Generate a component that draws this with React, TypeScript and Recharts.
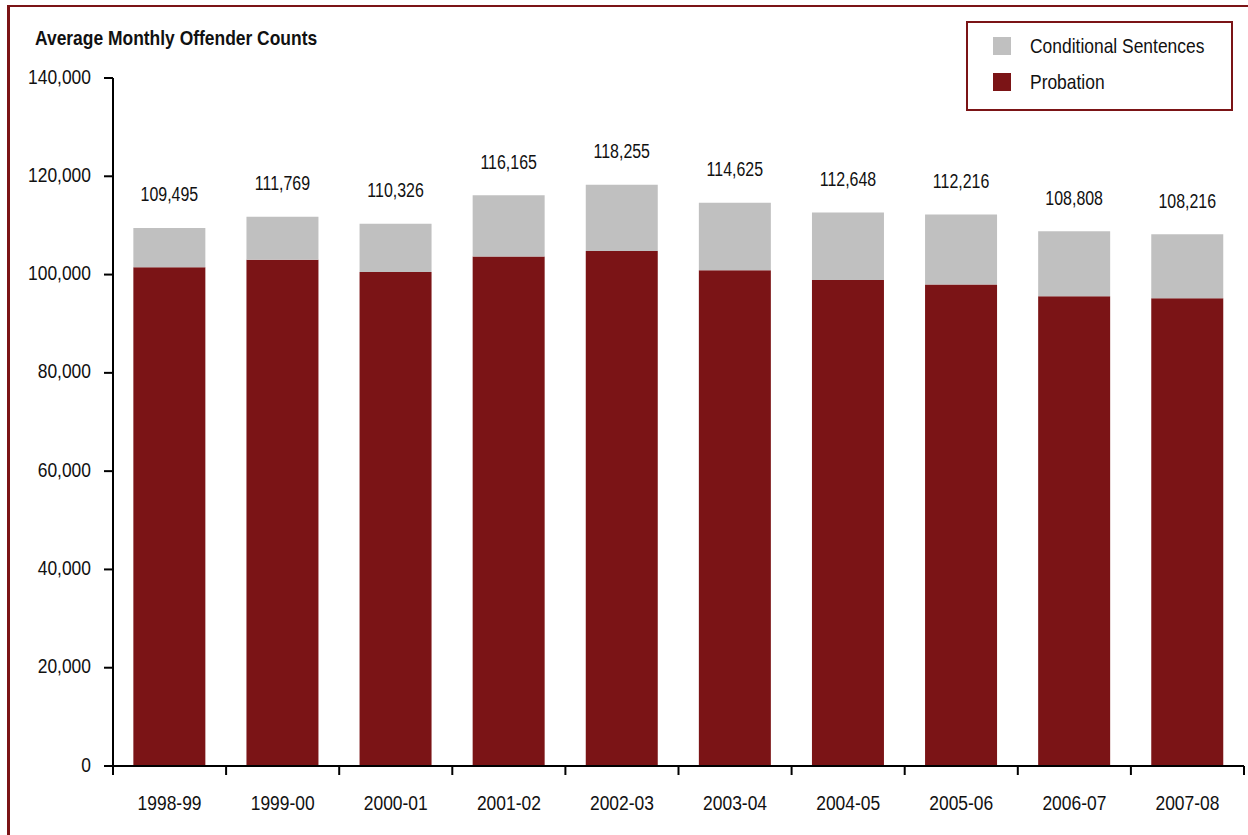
import React from 'react';
import { BarChart, Bar, XAxis, YAxis, LabelList } from 'recharts';

const categories = ['1998-99', '1999-00', '2000-01', '2001-02', '2002-03', '2003-04', '2004-05', '2005-06', '2006-07', '2007-08'];
const totals = [109495, 111769, 110326, 116165, 118255, 114625, 112648, 112216, 108808, 108216];
const probation = [101500, 103000, 100500, 103700, 104800, 100900, 98900, 98000, 95600, 95200];
const conditional = [7995, 8769, 9826, 12465, 13455, 13725, 13748, 14216, 13208, 13016];
const yTicks = [0, 20000, 40000, 60000, 80000, 100000, 120000, 140000];

const data = categories.map((c, i) => ({
  year: c,
  probation: probation[i],
  conditional: conditional[i],
  total: totals[i],
}));

const RED = '#7b1416';
const GREY = '#c0c0c0';
const FONT = "'Liberation Sans', Arial, sans-serif";
const SX = 0.83;

const SERIES = [
  { key: 'conditional', name: 'Conditional Sentences', color: GREY },
  { key: 'probation', name: 'Probation', color: RED },
];

const CHART_W = 1248;
const CHART_H = 835;
const MARGIN = { top: 78, right: 4, bottom: 19, left: 33 };
const Y_AXIS_W = 80;
const X_AXIS_H = 50;
const BAND = (CHART_W - MARGIN.left - MARGIN.right - Y_AXIS_W) / categories.length;

const fmt = (v: number) => v.toLocaleString('en-US');

const NarrowText = ({ x, y, anchor, size, children, weight, sx }: any) => (
  <g transform={`translate(${x},${y}) scale(${sx || SX},1)`}>
    <text x={0} y={0} textAnchor={anchor} dominantBaseline="middle" fontFamily={FONT} fontSize={size} fontWeight={weight || 'normal'} fill="#111">
      {children}
    </text>
  </g>
);

const XTick = (props: any) => {
  const { x, y, payload, index } = props;
  const last = index === categories.length - 1;
  return (
    <g>
      <line x1={x - BAND / 2} x2={x - BAND / 2} y1={y} y2={y + 9} stroke="#000" strokeWidth={2} />
      {last && <line x1={x + BAND / 2} x2={x + BAND / 2} y1={y} y2={y + 9} stroke="#000" strokeWidth={2} />}
      <NarrowText x={x} y={y + 38} anchor="middle" size={21}>{payload.value}</NarrowText>
    </g>
  );
};

const YTick = (props: any) => {
  const { x, y, payload } = props;
  return <NarrowText x={x} y={y} anchor="end" size={21}>{fmt(payload.value)}</NarrowText>;
};

const TotalLabel = (props: any) => {
  const { x, y, width, value } = props;
  return <NarrowText x={x + width / 2} y={y - 32} anchor="middle" size={21} sx={0.76}>{fmt(value)}</NarrowText>;
};

export default function App() {
  return (
    <div style={{ position: 'absolute', left: 0, top: 0, width: CHART_W, height: CHART_H, overflow: 'hidden', background: '#fff' }}>
      <div style={{ position: 'absolute', left: 7, top: 5, width: 1400, height: 1000, borderLeft: `3px solid ${RED}`, borderTop: `2px solid ${RED}` }} />
      <div style={{ position: 'absolute', left: 35, top: 26, fontFamily: FONT, fontWeight: 'bold', fontSize: 21, color: '#111', whiteSpace: 'nowrap', transform: `scaleX(${SX})`, transformOrigin: 'left center' }}>
        Average Monthly Offender Counts
      </div>
      <div style={{ position: 'absolute', left: 0, top: 0 }}>
        <BarChart width={CHART_W} height={CHART_H} data={data} margin={MARGIN} barCategoryGap="18%">
          <XAxis
            dataKey="year"
            axisLine={{ stroke: '#000', strokeWidth: 2 }}
            tickLine={false}
            tickSize={0}
            tickMargin={0}
            height={X_AXIS_H}
            tick={<XTick />}
            interval={0}
          />
          <YAxis
            domain={[0, 140000]}
            ticks={yTicks}
            interval={0}
            width={Y_AXIS_W}
            axisLine={{ stroke: '#000', strokeWidth: 2 }}
            tickLine={{ stroke: '#000', strokeWidth: 2 }}
            tickSize={9}
            tickMargin={13}
            tick={<YTick />}
          />
          <Bar dataKey="probation" name="Probation" stackId="a" fill={RED} isAnimationActive={false} />
          <Bar dataKey="conditional" name="Conditional Sentences" stackId="a" fill={GREY} isAnimationActive={false}>
            <LabelList dataKey="total" content={<TotalLabel />} />
          </Bar>
        </BarChart>
      </div>
      <div style={{ position: 'absolute', left: 966, top: 21, width: 263, height: 81, border: `2px solid ${RED}`, paddingTop: 5, background: '#fff', boxSizing: 'content-box' }}>
        {SERIES.map((s) => (
          <div key={s.key} style={{ display: 'flex', alignItems: 'center', height: 36, marginLeft: 25 }}>
            <div style={{ width: 18, height: 18, background: s.color, flex: 'none' }} />
            <span style={{ marginLeft: 19, fontFamily: FONT, fontSize: 21, color: '#111', whiteSpace: 'nowrap', display: 'inline-block', transform: `scaleX(${SX})`, transformOrigin: 'left center' }}>{s.name}</span>
          </div>
        ))}
      </div>
    </div>
  );
}
